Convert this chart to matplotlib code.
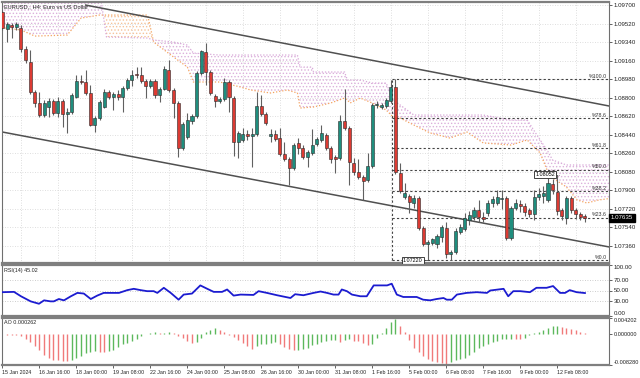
import matplotlib
matplotlib.use("Agg")
import matplotlib.pyplot as plt
import matplotlib.transforms as mtransforms
import numpy as np

# ---------------- data ----------------
opens = [1.09632,1.09467,1.09506,1.09487,1.09477,1.09273,1.09147,1.08856,1.08749,1.08632,
         1.08710,1.08768,1.08652,1.08768,1.08642,1.08661,1.08807,1.08962,1.08953,1.08846,
         1.08535,1.08603,1.08710,1.08856,1.08807,1.08836,1.08807,1.08894,1.08972,1.09031,
         1.09021,1.08962,1.08914,1.08962,1.08827,1.08885,1.09069,1.08875,1.08749,1.08312,
         1.08419,1.08574,1.08623,1.09040,1.09244,1.09050,1.08817,1.08768,1.08788,1.08953,
         1.08797,1.08371,1.08390,1.08448,1.08429,1.08448,1.08720,1.08642,1.08429,1.08448,
         1.08409,1.08254,1.08205,1.08118,1.08361,1.08312,1.08225,1.08264,1.08351,1.08390,
         1.08439,1.08312,1.08225,1.08215,1.08574,1.08506,1.08166,1.08079,1.08030,1.08001,
         1.08137,1.08730,1.08710,1.08720,1.08768,1.08904,1.08069,1.07836,1.07846,1.07778,
         1.07827,1.07535,1.07380,1.07390,1.07380,1.07448,1.07535,1.07283,1.07303,1.07496,
         1.07525,1.07613,1.07642,1.07710,1.07642,1.07681,1.07778,1.07778,1.07817,1.07827,
         1.07438,1.07729,1.07768,1.07749,1.07710,1.07671,1.07836,1.07846,1.07807,1.07962,
         1.07885,1.07710,1.07632,1.07827,1.07710,1.07671,1.07652]
highs = [1.09652,1.09535,1.09526,1.09535,1.09506,1.09302,1.09264,1.08875,1.08856,1.08778,
         1.08797,1.08788,1.08807,1.08788,1.08700,1.08846,1.09021,1.09021,1.09069,1.08924,
         1.08623,1.08778,1.08885,1.08875,1.08856,1.08875,1.08914,1.08992,1.09069,1.09098,
         1.09098,1.08982,1.08982,1.08982,1.08904,1.09108,1.09166,1.08894,1.08768,1.08564,
         1.08652,1.08642,1.09060,1.09264,1.09332,1.09069,1.08836,1.08807,1.08992,1.08972,
         1.08817,1.08477,1.08506,1.08487,1.08506,1.08856,1.08827,1.08661,1.08496,1.08487,
         1.08506,1.08371,1.08225,1.08361,1.08409,1.08341,1.08293,1.08496,1.08419,1.08535,
         1.08458,1.08332,1.08244,1.08632,1.08885,1.08526,1.08215,1.08205,1.08050,1.08264,
         1.08749,1.08768,1.08749,1.08797,1.08972,1.08980,1.08166,1.07972,1.07865,1.07856,
         1.07846,1.07555,1.07419,1.07438,1.07477,1.07564,1.07594,1.07322,1.07535,1.07574,
         1.07681,1.07700,1.07740,1.07807,1.07690,1.07807,1.07846,1.07904,1.07904,1.07846,
         1.07749,1.07817,1.07807,1.07778,1.07730,1.07904,1.07923,1.07943,1.08020,1.08011,
         1.08052,1.07730,1.07846,1.07846,1.07730,1.07690,1.07671]
lows = [1.09458,1.09341,1.09380,1.09458,1.09244,1.09137,1.08836,1.08710,1.08613,1.08613,
        1.08613,1.08632,1.08613,1.08516,1.08458,1.08642,1.08797,1.08933,1.08827,1.08526,
        1.08467,1.08584,1.08700,1.08788,1.08681,1.08778,1.08661,1.08875,1.08914,1.08992,
        1.08943,1.08797,1.08894,1.08797,1.08759,1.08875,1.08856,1.08603,1.08225,1.08293,
        1.08400,1.08545,1.08603,1.09021,1.08924,1.08827,1.08710,1.08749,1.08768,1.08661,
        1.08235,1.08215,1.08371,1.08390,1.08127,1.08429,1.08623,1.08535,1.08371,1.08380,
        1.08235,1.08186,1.07953,1.08098,1.08254,1.08205,1.08127,1.08244,1.08332,1.08371,
        1.08293,1.08166,1.08069,1.08195,1.08487,1.07953,1.08050,1.08011,1.07807,1.07982,
        1.08118,1.08700,1.08690,1.08700,1.08749,1.08060,1.07875,1.07817,1.07681,1.07730,
        1.07516,1.07360,1.07220,1.07370,1.07341,1.07399,1.07244,1.07225,1.07283,1.07477,
        1.07506,1.07564,1.07613,1.07594,1.07594,1.07652,1.07740,1.07759,1.07720,1.07419,
        1.07419,1.07710,1.07690,1.07652,1.07642,1.07613,1.07807,1.07778,1.07788,1.07865,
        1.07662,1.07613,1.07574,1.07681,1.07623,1.07613,1.07594]
closes = [1.09477,1.09516,1.09487,1.09516,1.09273,1.09166,1.08856,1.08749,1.08632,1.08749,
          1.08768,1.08652,1.08768,1.08642,1.08661,1.08827,1.08962,1.08953,1.08846,1.08535,
          1.08603,1.08759,1.08856,1.08807,1.08836,1.08807,1.08894,1.08972,1.09021,1.09021,
          1.08962,1.08914,1.08962,1.08827,1.08885,1.09079,1.08875,1.08749,1.08312,1.08545,
          1.08584,1.08623,1.09040,1.09254,1.09050,1.08846,1.08768,1.08788,1.08953,1.08807,
          1.08371,1.08458,1.08448,1.08429,1.08448,1.08720,1.08642,1.08555,1.08448,1.08400,
          1.08254,1.08205,1.08118,1.08341,1.08312,1.08225,1.08273,1.08341,1.08400,1.08458,
          1.08312,1.08205,1.08205,1.08574,1.08506,1.08176,1.08079,1.08030,1.07991,1.08137,
          1.08730,1.08739,1.08730,1.08778,1.08904,1.08079,1.07894,1.07875,1.07788,1.07827,
          1.07535,1.07380,1.07399,1.07429,1.07458,1.07545,1.07283,1.07303,1.07506,1.07545,
          1.07632,1.07662,1.07710,1.07642,1.07623,1.07778,1.07817,1.07836,1.07827,1.07438,
          1.07729,1.07778,1.07749,1.07690,1.07671,1.07836,1.07865,1.07875,1.07972,1.07904,
          1.07700,1.07652,1.07827,1.07710,1.07671,1.07642,1.07635]

# Ichimoku cloud (bar index, Senkou Span A, Senkou Span B)
cloud_idx = [-1, 4, 7, 14, 17, 21, 22.5, 31.4, 32.7, 37, 40, 41.3, 47, 51.5, 53.7, 58, 61.6,
             63.8, 64.4, 67, 67.3, 71, 74, 74.6, 75.2, 77.4, 80, 83, 84.5, 86, 89, 92.5,
             96.8, 100.5, 104, 110, 113.5, 116.3, 117.8, 119, 122, 124.3, 126.4, 129, 132]
span_a = [1.09487, 1.09458, 1.09399, 1.09409, 1.09574, 1.09603, 1.09603, 1.09603, 1.09341,
          1.09196, 1.09098, 1.08953, 1.08953, 1.08904, 1.08875, 1.08846, 1.08875, 1.08846,
          1.08700, 1.08710, 1.08710, 1.08749, 1.08797, 1.08778, 1.08749, 1.08797, 1.08749,
          1.08681, 1.08613, 1.08603, 1.08535, 1.08458, 1.08409, 1.08467, 1.08361, 1.08341,
          1.08390, 1.08264, 1.08098, 1.08021, 1.07933, 1.07807, 1.07778, 1.07807, 1.07826]
span_b = [1.09846, 1.09846, 1.09846, 1.09846, 1.09846, 1.09846, 1.09390, 1.09380, 1.09361,
          1.09341, 1.09312, 1.09234, 1.09215, 1.09215, 1.09215, 1.09215, 1.09215, 1.09215,
          1.09098, 1.09098, 1.09050, 1.09050, 1.09050, 1.08972, 1.08972, 1.08972, 1.08943,
          1.08943, 1.08778, 1.08730, 1.08632, 1.08632, 1.08632, 1.08632, 1.08632, 1.08584,
          1.08584, 1.08390, 1.08293, 1.08195, 1.08147, 1.08147, 1.08147, 1.08147, 1.08147]

# channel trend lines (bar index, price)
lower_line_idx = [0, 131.2]
lower_line_px = [1.08467, 1.07351]
upper_line_idx = [18, 131.2]
upper_line_px = [1.09700, 1.08720]

# Fibonacci retracement
fib_high = 1.08980
fib_low = 1.07220
fib_ratios = [100.0, 78.6, 61.8, 50.0, 38.2, 23.6, 0.0]
fib_start = 84.2

# RSI(14) (bar index, value)
rsi_idx = [0, 2.5, 4, 6.1, 7.9, 9, 10.4, 11.1, 12.2, 13.3, 14.8, 16.2, 17.6, 19.1, 20.5, 21.9,
           25.2, 27, 28.4, 29.9, 31.3, 32.7, 33.5, 34.9, 36.4, 38.1, 39.2, 41, 42.8, 44.3,
           45.7, 47.5, 48.6, 50, 51.5, 54.3, 55.4, 57.2, 59.4, 62.3, 63.3, 65.1, 67.3, 68.8,
           70.2, 71.6, 72.7, 73.4, 74.5, 75.6, 77.4, 78.8, 80.3, 83.2, 84.2, 85.3, 86.7, 89.6,
           91, 92.5, 93.9, 95.4, 96.1, 97.2, 98.3, 100.4, 102.6, 104.8, 105.5, 108.4, 109.4,
           110.5, 112, 114.1, 115.5, 117.7, 119.1, 120.6, 121.7, 122.7, 124.2, 126]
rsi_vals = [46.7, 47.3, 38.7, 28.7, 24.0, 30.7, 28.7, 28.7, 33.3, 30.7, 38.7, 45.3, 44.0, 33.3,
            40.0, 45.3, 45.3, 50.7, 53.3, 50.7, 48.7, 48.7, 45.3, 55.3, 45.3, 32.0, 42.0, 44.0,
            60.0, 53.3, 47.3, 47.3, 52.0, 40.0, 42.0, 41.3, 48.7, 45.3, 40.7, 35.3, 42.7, 40.7,
            45.3, 48.0, 45.3, 42.0, 42.0, 52.0, 48.7, 42.0, 38.7, 38.7, 60.0, 60.0, 63.3, 42.0,
            37.3, 37.3, 32.0, 30.7, 33.3, 35.3, 32.0, 32.0, 42.0, 45.3, 46.7, 45.3, 50.0, 53.3,
            38.7, 48.7, 48.7, 46.7, 55.3, 55.3, 58.7, 45.3, 45.3, 50.7, 46.7, 45.02]

# Awesome Oscillator per bar
ao_vals = [-0.0001, -0.0002, -0.0003, -0.0004, -0.0007, -0.0015, -0.0021, -0.0033, -0.0044, -0.0056,
           -0.0065, -0.0069, -0.0070, -0.0072, -0.0073, -0.0070, -0.0065, -0.0058, -0.0052, -0.0047,
           -0.0046, -0.0047, -0.0049, -0.0046, -0.0043, -0.0035, -0.0028, -0.0024, -0.0019, -0.0015,
           -0.0006, -0.0001, 0.0003, 0.0004, 0.0001, 0.0002, 0.0004, 0.0003, -0.0006, -0.0012,
           -0.0019, -0.0024, -0.0021, -0.0012, 0.0006, 0.0011, 0.0015, 0.0011, 0.0006, -0.0003,
           -0.0009, -0.0017, -0.0024, -0.0033, -0.0040, -0.0033, -0.0028, -0.0026, -0.0024, -0.0021,
           -0.0026, -0.0035, -0.0040, -0.0043, -0.0042, -0.0040, -0.0037, -0.0031, -0.0026, -0.0021,
           -0.0019, -0.0017, -0.0016, -0.0021, -0.0017, -0.0015, -0.0019, -0.0020, -0.0024, -0.0031,
           -0.0026, -0.0012, 0.0002, 0.0016, 0.0032, 0.0040, 0.0022, 0.0006, -0.0017, -0.0037,
           -0.0049, -0.0058, -0.0068, -0.0072, -0.0074, -0.0077, -0.0079, -0.0074, -0.0070, -0.0068,
           -0.0063, -0.0057, -0.0049, -0.0037, -0.0033, -0.0028, -0.0021, -0.0019, -0.0015, -0.0014,
           -0.0013, -0.0014, -0.0015, -0.0011, -0.0004, 0.0002, 0.0006, 0.0011, 0.0016, 0.0020,
           0.0022, 0.0019, 0.0016, 0.0013, 0.0009, 0.0006, 0.000262]

price_ticks = [1.09700, 1.09520, 1.09340, 1.09160, 1.08980, 1.08800, 1.08620, 1.08440,
               1.08260, 1.08080, 1.07900, 1.07720, 1.07540, 1.07360]
time_tick_idx = [0, 8, 16, 24, 32, 40, 48, 56, 64, 72, 80, 88, 96, 104, 112, 120]
time_tick_labels = ["15 Jan 2024", "16 Jan 16:00", "18 Jan 00:00", "19 Jan 08:00",
                    "22 Jan 16:00", "24 Jan 00:00", "25 Jan 08:00", "26 Jan 16:00",
                    "30 Jan 00:00", "31 Jan 08:00", "1 Feb 16:00", "5 Feb 00:00",
                    "6 Feb 08:00", "7 Feb 16:00", "9 Feb 00:00", "12 Feb 08:00"]
last_price = 1.07635
rsi_last = 45.02
ao_last = 0.000262

# ---------------- figure ----------------
plt.rcParams['font.family'] = ['Liberation Sans', 'DejaVu Sans']
plt.rcParams['hatch.linewidth'] = 0.6
W, H = 640, 378
fig = plt.figure(figsize=(6.4, 3.78), dpi=100, facecolor='white')

def rect(x0, y0, x1, y1):
    return [x0 / W, 1 - y1 / H, (x1 - x0) / W, (y1 - y0) / H]

ax = fig.add_axes(rect(2, 2, 609, 263))
ax_rsi = fig.add_axes(rect(2, 265, 609, 316), sharex=ax)
ax_ao = fig.add_axes(rect(2, 318, 609, 365), sharex=ax)

XMIN, XMAX = -0.1, 131.2
ax.set_xlim(XMIN, XMAX)
ax.set_ylim(1.07195, 1.09730)

grid_kw = dict(color='#d4d4d4', lw=0.6, ls=(0, (1, 2)), zorder=0)
for p in price_ticks:
    ax.axhline(p, **grid_kw)
for gx in np.arange(4, 132, 8):
    ax.axvline(gx, **grid_kw)

# Ichimoku cloud
ci = np.array(cloud_idx); sa = np.array(span_a); sb = np.array(span_b)
ax.fill_between(ci, sa, sb, where=sb >= sa, interpolate=True, facecolor='none',
                edgecolor='#dcb0dc', hatch='.....', lw=0, zorder=1)
ax.fill_between(ci, sa, sb, where=sa > sb, interpolate=True, facecolor='none',
                edgecolor='#f6c39a', hatch='.....', lw=0, zorder=1)
ax.plot(ci, sa, color='#f4a460', ls=(0, (1, 1.5)), lw=0.9, zorder=2)
ax.plot(ci, sb, color='#d8a8d8', ls=(0, (1, 1.5)), lw=0.9, zorder=2)

# channel
ax.plot(lower_line_idx, lower_line_px, color='#505050', lw=1.1, zorder=2)
ax.plot(upper_line_idx, upper_line_px, color='#505050', lw=1.1, zorder=2)

# candles
o = np.array(opens); h = np.array(highs); l = np.array(lows); c = np.array(closes)
idx = np.arange(len(o))
up = c >= o
ax.vlines(idx, l, h, color='#606060', lw=0.8, zorder=3)
bot = np.minimum(o, c)
bh = np.maximum(np.abs(c - o), 0.00003)
ax.bar(idx[up], bh[up], bottom=bot[up], width=0.66, color='#1f8e7e',
       edgecolor='#2a2a2a', lw=0.4, zorder=4)
ax.bar(idx[~up], bh[~up], bottom=bot[~up], width=0.66, color='#dc3b33',
       edgecolor='#2a2a2a', lw=0.4, zorder=4)

# Fibonacci
fib_levels = [fib_low + r / 100.0 * (fib_high - fib_low) for r in fib_ratios]
ax.plot([fib_start, fib_start], [fib_low, fib_high], color='#444444', lw=0.8,
        ls=(0, (2, 2)), zorder=2)
for r, lv in zip(fib_ratios, fib_levels):
    ax.plot([fib_start, XMAX], [lv, lv], color='#444444', lw=0.8, ls=(0, (2, 2)), zorder=2)
    ax.text(XMAX - 0.4, lv + 0.00004, "%%%.1f" % r, ha='right', va='bottom',
            fontsize=3.8, color='#333333', zorder=6)

box_kw = dict(boxstyle='square,pad=0.2', fc='white', ec='#222222', lw=0.6)
ax.plot([90.9, 92], [fib_low, fib_low], color='#444444', lw=0.6, zorder=5)
ax.text(90.9, fib_low, "1.07220", ha='right', va='center', fontsize=3.9,
        bbox=box_kw, zorder=7)
ax.plot([119.5, 120.3], [highs[120], highs[120]], color='#444444', lw=0.6,
        ls=(0, (1, 1)), zorder=5)
ax.text(119.5, highs[120], "1.08052", ha='right', va='center', fontsize=3.9,
        bbox=box_kw, zorder=7)

# current price box on the axis
trans = mtransforms.blended_transform_factory(ax.transAxes, ax.transData)
ax.text(1.003, last_price, "1.07635", transform=trans, ha='left', va='center',
        fontsize=4.4, color='white',
        bbox=dict(boxstyle='square,pad=0.25', fc='black', ec='black'), zorder=8,
        clip_on=False)

ax.text(0.003, 0.992, "EURUSD,, H4: Euro vs US Dollar", transform=ax.transAxes,
        fontsize=4.1, va='top', ha='left', color='#222222')

# RSI
ax_rsi.set_ylim(0, 100)
for lv in (70, 50, 30):
    ax_rsi.axhline(lv, color='#bdbdbd', lw=0.6, ls=(0, (1, 2)), zorder=0)
ax_rsi.plot(rsi_idx, rsi_vals, color='#1c1cd0', lw=1.3, zorder=3)
ax_rsi.text(0.003, 0.95, "RSI(14) %.2f" % rsi_last, transform=ax_rsi.transAxes,
            fontsize=3.9, va='top', ha='left', color='#222222')

# AO
ao = np.array(ao_vals)
ao_cols = ['#5cb85c' if (i == 0 or ao[i] >= ao[i - 1]) else '#f07a7a' for i in range(len(ao))]
ax_ao.vlines(np.arange(len(ao)), 0, ao, colors=ao_cols, lw=1.0)
ax_ao.set_ylim(-0.00828, 0.004202)
ax_ao.text(0.003, 0.95, "AO %.6f" % ao_last, transform=ax_ao.transAxes,
           fontsize=3.9, va='top', ha='left', color='#222222')

# axes styling
for a in (ax, ax_rsi, ax_ao):
    a.set_facecolor('white')
    a.yaxis.tick_right()
    a.tick_params(axis='y', labelsize=4.4, length=2, width=0.5, pad=1.2, colors='#222222')
    for s in ('left', 'right'):
        a.spines[s].set_color('#6f6f6f'); a.spines[s].set_linewidth(0.8)
    for s in ('top', 'bottom'):
        a.spines[s].set_color('#7f7f7f'); a.spines[s].set_linewidth(1.6)

ax.set_yticks(price_ticks)
ax.set_yticklabels(["%.5f" % p for p in price_ticks])
ax_rsi.set_yticks([0, 30, 50, 70, 100])
ax_rsi.set_yticklabels(["0.00", "30.00", "50.00", "70.00", "100.00"])
ax_ao.set_yticks([-0.00828, 0.0, 0.004202])
ax_ao.set_yticklabels(["-0.008280", "0.000000", "0.004202"])
ax_ao.tick_params(axis='y', labelsize=4.1)

# keep extreme labels inside their panels
rl = ax_rsi.get_yticklabels()
rl[0].set_va('bottom'); rl[-1].set_va('top')
al = ax_ao.get_yticklabels()
al[0].set_va('bottom'); al[-1].set_va('top')

for a in (ax, ax_rsi):
    a.tick_params(axis='x', length=0, labelbottom=False)
ax_ao.set_xticks(time_tick_idx)
ax_ao.set_xticklabels(time_tick_labels, ha='left')
ax_ao.tick_params(axis='x', labelsize=3.8, length=2, width=0.5, pad=1.5, colors='#222222')

fig.savefig("out.png", dpi=100, facecolor='white')
